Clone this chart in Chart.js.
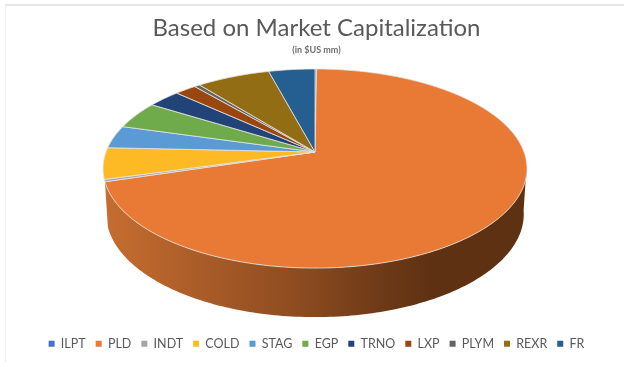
<!DOCTYPE html>
<html>
<head>
<meta charset="utf-8">
<style>
  html, body { margin: 0; padding: 0; background: #fff; }
  #wrap { position: relative; width: 640px; height: 367px; overflow: hidden; }
  #moldura { position: absolute; left: 5px; top: 4px; width: 618px; height: 356px; border-top: 2px solid #E6E6E6; border-left: 1px solid #F0F0F0; }
  canvas { position: absolute; left: 0; top: 0; }
</style>
<script src="https://cdn.jsdelivr.net/npm/chart.js@4"></script>
</head>
<body>
<div id="wrap"><div id="moldura"></div><canvas id="grafico" width="640" height="367"></canvas></div>
<script>
// Market cap in $US mm
var tickers = ['ILPT', 'PLD', 'INDT', 'COLD', 'STAG', 'EGP', 'TRNO', 'LXP', 'PLYM', 'REXR', 'FR'];
var marketCap = [175, 88375, 455, 6390, 4670, 5635, 3710, 2450, 630, 8295, 5215];
var cores = ['#4472C4', '#E97A36', '#A5A5A5', '#FDBA25', '#5A9AD5', '#6FAB4B', '#214377', '#99460F', '#636363', '#936D14', '#255E91'];
var titulo = 'Based on Market Capitalization';
var subtitulo = '(in $US mm)';

// Tilted disc: apex of the pie and perspective of the top face
var apexX = 315, apexY = 152;
var escalaX = 209, escalaY = 96.8, persp = -0.166;
// front wall of the disc, in degrees clockwise from 12 o'clock
var paredeIni = 97, paredeFim = 253.5;

function topo(t) {
  var u = Math.sin(t), v = -Math.cos(t), w = 1 + persp * v;
  return { x: apexX + escalaX * u / w, y: apexY + escalaY * v / w };
}
function base(t) {
  var p = topo(t);
  return { x: apexX + (p.x - apexX) * 0.985, y: apexY + (p.y - apexY) * 1.035 + 45 };
}

var disco3d = {
  id: 'disco3d',
  beforeDatasetDraw: function (chart, args) {
    var ctx = chart.ctx, arcs = args.meta.data, passo = Math.PI / 180, t;
    ctx.save();

    // side wall
    var grad = ctx.createLinearGradient(105, 0, 527, 0);
    grad.addColorStop(0, '#C66D30');
    grad.addColorStop(0.45, '#8E4C20');
    grad.addColorStop(0.68, '#6A3816');
    grad.addColorStop(0.78, '#5E3113');
    grad.addColorStop(1, '#5E3113');
    ctx.beginPath();
    for (t = paredeIni; t <= paredeFim; t += 1) {
      var a = topo(t * passo);
      ctx.lineTo(a.x, a.y);
    }
    for (t = paredeFim; t >= paredeIni; t -= 1) {
      var b = base(t * passo);
      ctx.lineTo(b.x, b.y);
    }
    ctx.closePath();
    ctx.fillStyle = grad;
    ctx.fill();

    // top face, angles come from the arc elements
    arcs.forEach(function (arc, i) {
      var ini = arc.startAngle + Math.PI / 2, fim = arc.endAngle + Math.PI / 2;
      ctx.beginPath();
      ctx.moveTo(apexX, apexY);
      for (var s = ini; s < fim; s += passo / 2) {
        var p = topo(s);
        ctx.lineTo(p.x, p.y);
      }
      var q = topo(fim);
      ctx.lineTo(q.x, q.y);
      ctx.closePath();
      ctx.fillStyle = cores[i];
      ctx.fill();
      ctx.lineWidth = 0.8;
      ctx.strokeStyle = '#E4E4E4';
      ctx.stroke();
    });
    ctx.restore();
    return false;
  }
};

var ctx = document.getElementById('grafico').getContext('2d');
var chart = new Chart(ctx, {
  type: 'pie',
  data: {
    labels: tickers,
    datasets: [{
      data: marketCap,
      backgroundColor: cores,
      borderWidth: 0
    }]
  },
  options: {
    responsive: false,
    animation: false,
    layout: { padding: { top: 6, bottom: 7, right: 7 } },
    plugins: {
      title: {
        display: true,
        text: titulo,
        color: '#595959',
        font: { family: 'Lato', size: 24, weight: 'normal' },
        padding: { top: 8, bottom: 0 }
      },
      subtitle: {
        display: true,
        text: subtitulo,
        color: '#6E6E6E',
        font: { family: 'Lato', size: 9, weight: 'bold' },
        padding: { top: 2, bottom: 4 }
      },
      legend: {
        position: 'bottom',
        labels: {
          boxWidth: 6,
          boxHeight: 6,
          padding: 10,
          color: '#595959',
          font: { family: 'Lato', size: 12.5 }
        }
      },
      tooltip: { enabled: false }
    }
  },
  plugins: [disco3d]
});
</script>
</body>
</html>
